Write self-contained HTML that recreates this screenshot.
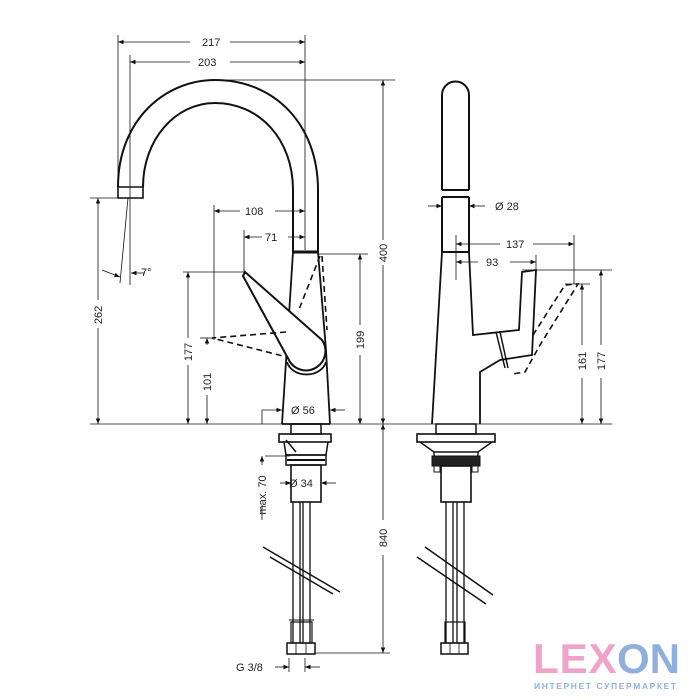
<!DOCTYPE html>
<html><head><meta charset="utf-8"><style>
html,body{margin:0;padding:0;background:#fff;width:700px;height:700px;overflow:hidden}
svg{display:block}
text{font-family:"Liberation Sans",sans-serif;font-size:11px;fill:#222}
</style></head><body>
<svg width="700" height="700" viewBox="0 0 700 700" xmlns="http://www.w3.org/2000/svg">
<defs>
<marker id="a" viewBox="0 0 10 10" refX="10" refY="5" markerWidth="7" markerHeight="7" orient="auto-start-reverse"><path d="M0,1 L10,5 L0,9z" fill="#111"/></marker>
</defs>
<g stroke="#111" fill="none" stroke-width="0.8">
<!-- extension lines -->
<line x1="118" y1="35" x2="118" y2="195"/>
<line x1="130" y1="55" x2="130" y2="285"/>
<line x1="305" y1="35" x2="305" y2="250"/>
<line x1="214" y1="205" x2="214" y2="340"/>
<line x1="244" y1="230" x2="244" y2="272"/>
<line x1="220" y1="80" x2="395" y2="80"/>
<line x1="90" y1="198" x2="118" y2="198"/>
<line x1="183" y1="272" x2="244" y2="272"/>
<line x1="200" y1="338" x2="215" y2="338"/>
<line x1="318" y1="254" x2="368" y2="254"/>
<line x1="90" y1="424" x2="612" y2="424"/>
<!-- left dims -->
<line x1="118" y1="42" x2="190" y2="42" marker-start="url(#a)"/><line x1="230" y1="42" x2="305" y2="42" marker-end="url(#a)"/>
<line x1="130" y1="62" x2="190" y2="62" marker-start="url(#a)"/><line x1="230" y1="62" x2="305" y2="62" marker-end="url(#a)"/>
<line x1="383" y1="80" x2="383" y2="240" marker-start="url(#a)"/><line x1="383" y1="265" x2="383" y2="424" marker-end="url(#a)"/>
<line x1="98" y1="198" x2="98" y2="300" marker-start="url(#a)"/><line x1="98" y1="328" x2="98" y2="424" marker-end="url(#a)"/>
<line x1="188" y1="272" x2="188" y2="338" marker-start="url(#a)"/><line x1="188" y1="365" x2="188" y2="424" marker-end="url(#a)"/>
<line x1="207" y1="338" x2="207" y2="345" marker-start="url(#a)"/><line x1="207" y1="395" x2="207" y2="424" marker-end="url(#a)"/>
<line x1="360" y1="254" x2="360" y2="325" marker-start="url(#a)"/><line x1="360" y1="355" x2="360" y2="424" marker-end="url(#a)"/>
<line x1="214" y1="211" x2="240" y2="211" marker-start="url(#a)"/><line x1="275" y1="211" x2="305" y2="211" marker-end="url(#a)"/>
<line x1="244" y1="237" x2="262" y2="237" marker-start="url(#a)"/><line x1="288" y1="237" x2="305" y2="237" marker-end="url(#a)"/>
<line x1="262" y1="410" x2="282" y2="410" marker-end="url(#a)"/><line x1="345" y1="410" x2="330" y2="410" marker-end="url(#a)"/>
<line x1="262" y1="410" x2="262" y2="424"/>
<line x1="102" y1="270" x2="120" y2="277" marker-end="url(#a)"/><line x1="145" y1="273" x2="131" y2="273" marker-end="url(#a)"/>
<line x1="128" y1="198" x2="120" y2="283"/>
<!-- left faucet -->
<path d="M118,187 C118,120 165,80 215,80 C275,80 318,125 318,190 L318,252" stroke-width="2"/>
<path d="M143,187 C143,140 175,103 215,103 C260,103 293,140 293,190 L293,252" stroke-width="2"/>
<path d="M118,187 L143,187 L143,198 L118,198 Z" stroke-width="1.6"/>
<line x1="293" y1="252" x2="318" y2="252" stroke-width="3"/>
<path d="M293,252 L282,424 M318,252 L326,350 L330,424 M282,424 L330,424" stroke-width="1.8"/>
<path d="M245,272 L322,340 A14,14 0 0 1 290,362 L243,276 Z" stroke-width="2" fill="#fff"/>
<path d="M287,362 A20,16 0 0 0 326,362" stroke-width="1.8"/>
<path d="M320,256 L298,312 M322,256 L327,330 M286,332 L212,338 L287,357" stroke-width="1.6" stroke-dasharray="6,4"/>
<!-- right faucet -->
<path d="M442,190 L442,95 A13.5,13.5 0 0 1 469,95 L469,190" stroke-width="2"/>
<path d="M442,190 L469,190 M442,197 L469,197" stroke-width="2"/>
<path d="M442,197 L442,252 M469,197 L469,252" stroke-width="2"/>
<line x1="442" y1="252" x2="469" y2="252" stroke-width="2"/>
<path d="M442,252 L432,424 M469,252 L473,335 L519,330 L522,272 L536,270 L532,355 L500,360 L480,372 L480,424" stroke-width="1.8"/>
<path d="M496,332 L505,368 M500,332 L508,368" stroke-width="1.5"/>
<path d="M533,335 L565,285 L578,284 L540,345 L525,372 L512,374" stroke-width="1.6" stroke-dasharray="6,4"/>
<line x1="456" y1="235" x2="456" y2="280"/>
<line x1="574" y1="235" x2="574" y2="284"/>
<line x1="536" y1="255" x2="536" y2="270"/>
<line x1="522" y1="270" x2="612" y2="270"/>
<line x1="565" y1="284" x2="590" y2="284"/>
<line x1="428" y1="206" x2="442" y2="206" marker-end="url(#a)"/><line x1="485" y1="206" x2="469" y2="206" marker-end="url(#a)"/>
<line x1="456" y1="244" x2="500" y2="244" marker-start="url(#a)"/><line x1="533" y1="244" x2="574" y2="244" marker-end="url(#a)"/>
<line x1="456" y1="262" x2="478" y2="262" marker-start="url(#a)"/><line x1="510" y1="262" x2="536" y2="262" marker-end="url(#a)"/>
<line x1="582" y1="284" x2="582" y2="345" marker-start="url(#a)"/><line x1="582" y1="378" x2="582" y2="424" marker-end="url(#a)"/>
<line x1="601" y1="270" x2="601" y2="345" marker-start="url(#a)"/><line x1="601" y1="378" x2="601" y2="424" marker-end="url(#a)"/>
<!-- left lower -->
<rect x="291" y="424" width="30" height="10" stroke-width="1.5"/>
<rect x="279" y="434" width="52" height="8" stroke-width="1.6"/>
<path d="M284,442 L286,455 L326,455 L328,442 M286,440 L296,452" stroke-width="1.5"/>
<rect x="286" y="455" width="40" height="10" stroke-width="1.5"/>
<line x1="287" y1="460" x2="325" y2="460" stroke-width="2"/>
<rect x="291" y="465" width="30" height="37" stroke-width="1.6"/>
<path d="M293,502 L293,643 M300,502 L300,643 M303,502 L303,643 M310,502 L310,643" stroke-width="1.3"/>
<path d="M289,620 L314,620 M289,643 L314,643" stroke-width="1"/>
<rect x="291" y="622" width="21" height="21" stroke-width="1.2"/>
<rect x="287" y="643" width="28" height="11" stroke-width="1.5"/>
<line x1="296" y1="643" x2="296" y2="654"/><line x1="306" y1="643" x2="306" y2="654"/>
<line x1="265" y1="456" x2="290" y2="456"/>
<line x1="262" y1="456" x2="262" y2="465" marker-start="url(#a)"/>
<line x1="262" y1="520" x2="262" y2="505"/>
<line x1="280" y1="483" x2="291" y2="483" marker-end="url(#a)"/><line x1="336" y1="483" x2="321" y2="483" marker-end="url(#a)"/>
<line x1="383" y1="424" x2="383" y2="520" marker-start="url(#a)"/><line x1="383" y1="555" x2="383" y2="653" marker-end="url(#a)"/>
<line x1="315" y1="653" x2="390" y2="653"/>
<line x1="289" y1="658" x2="289" y2="672"/><line x1="305" y1="658" x2="305" y2="672"/>
<line x1="275" y1="667" x2="289" y2="667" marker-end="url(#a)"/><line x1="320" y1="667" x2="305" y2="667" marker-end="url(#a)"/>
<path d="M263,547 L340,592 M270,557 L333,594" stroke-width="1.5"/>
<!-- right lower -->
<rect x="436" y="424" width="40" height="10" stroke-width="1.5"/>
<rect x="417" y="434" width="78" height="8" stroke-width="1.6"/>
<path d="M420,442 L434,452 L478,452 L492,442 M434,452 L434,456 M478,452 L478,456" stroke-width="1.4"/>
<rect x="432" y="456" width="48" height="10" fill="#222" stroke-width="1"/>
<rect x="434" y="466" width="6" height="6" stroke-width="1"/><rect x="472" y="466" width="6" height="6" stroke-width="1"/>
<rect x="441" y="466" width="30" height="36" stroke-width="1.6"/>
<path d="M446,502 L446,643 M453,502 L453,643 M457,502 L457,643 M464,502 L464,643" stroke-width="1.3"/>
<rect x="445" y="622" width="20" height="21" stroke-width="1.2"/>
<rect x="441" y="643" width="27" height="11" stroke-width="1.5"/>
<line x1="450" y1="643" x2="450" y2="654"/><line x1="459" y1="643" x2="459" y2="654"/>
<path d="M425,547 L493,595 M417,557 L486,604" stroke-width="1.5"/>
</g>
<text x="202" y="46" font-size="11">217</text>
<text x="198" y="66">203</text>
<text x="245" y="215">108</text>
<text x="265" y="241">71</text>
<text x="141" y="276">7°</text>
<text x="291" y="414">Ø 56</text>
<text x="495" y="210">Ø 28</text>
<text x="506" y="248">137</text>
<text x="486" y="266">93</text>
<text x="289" y="487" font-size="10">Ø 34</text>
<text x="236" y="671">G 3/8</text>
<text transform="translate(102,315) rotate(-90)" text-anchor="middle">262</text>
<text transform="translate(192,352) rotate(-90)" text-anchor="middle">177</text>
<text transform="translate(211,382) rotate(-90)" text-anchor="middle">101</text>
<text transform="translate(364,340) rotate(-90)" text-anchor="middle">199</text>
<text transform="translate(387,253) rotate(-90)" text-anchor="middle">400</text>
<text transform="translate(586,361) rotate(-90)" text-anchor="middle">161</text>
<text transform="translate(605,361) rotate(-90)" text-anchor="middle">177</text>
<text transform="translate(387,538) rotate(-90)" text-anchor="middle">840</text>
<text transform="translate(266,495) rotate(-90)" text-anchor="middle" font-size="10">max. 70</text>
<text x="533" y="673" style="font-size:42px;font-weight:bold;fill:#f0a3c8;letter-spacing:1px">LEX</text>
<text x="617" y="673" style="font-size:42px;font-weight:bold;fill:#8fb0dc">ON</text>
<text x="534" y="689" style="font-size:8.5px;font-weight:bold;fill:#8fb0dc;letter-spacing:1.6px">ИНТЕРНЕТ СУПЕРМАРКЕТ</text>
</svg>
</body></html>
